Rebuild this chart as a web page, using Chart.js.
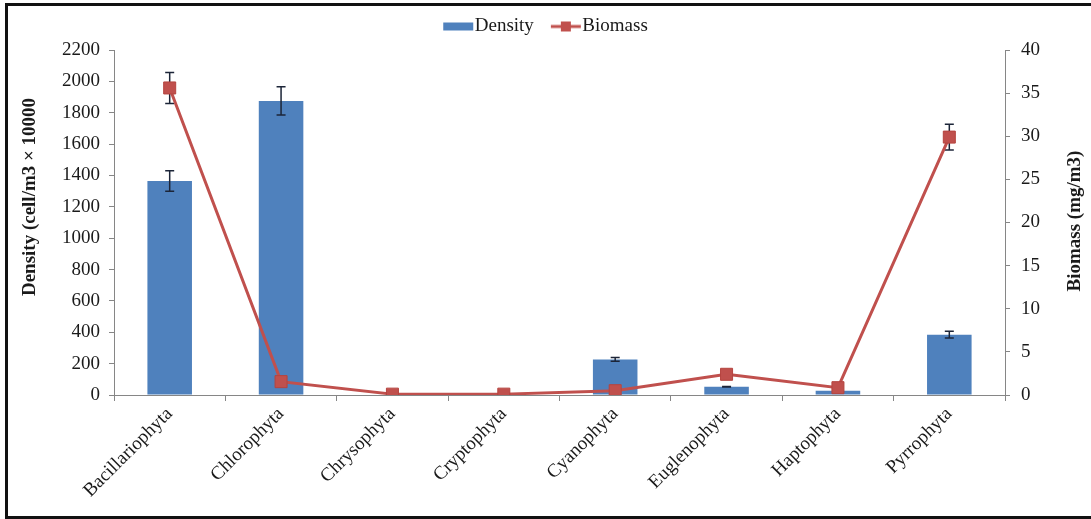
<!DOCTYPE html>
<html>
<head>
<meta charset="utf-8">
<script src="https://cdn.jsdelivr.net/npm/chart.js@4.4.1/dist/chart.umd.min.js"></script>
<style>
  html, body { margin: 0; padding: 0; background: #fff; }
  #wrap { position: relative; width: 1091px; height: 519px; overflow: hidden; background: #fff; }
  #frame { position: absolute; left: 5px; top: 3px; width: 1100px; height: 516px; box-sizing: border-box;
           border: 3px solid #111; border-right: none; pointer-events: none; }
  canvas { position: absolute; left: 0; top: 0; }
</style>
</head>
<body>
<div id="wrap">
  <canvas id="c" width="1091" height="519"></canvas>
  <div id="frame"></div>
</div>
<script>
const categories = ['Bacillariophyta', 'Chlorophyta', 'Chrysophyta', 'Cryptophyta', 'Cyanophyta', 'Euglenophyta', 'Haptophyta', 'Pyrrophyta'];
const density = [1365, 1875, 0, 0, 227, 53, 27, 385];
const densityErr = [65, 90, 0, 0, 12, 2, 0, 22];
const biomass = [35.6, 1.55, 0.1, 0.1, 0.5, 2.4, 0.85, 29.9];
const biomassErr = [1.8, 0, 0, 0, 0, 0, 0, 1.5];
const densityTicks = [0, 200, 400, 600, 800, 1000, 1200, 1400, 1600, 1800, 2000, 2200];
const biomassTicks = [0, 5, 10, 15, 20, 25, 30, 35, 40];

const BLUE = '#4F81BD';
const RED = '#C0504D';
const AXIS = '#868686';
const TEXT = '#1a1a1a';
const FONT = "'Liberation Serif', 'Times New Roman', serif";

Chart.defaults.font.family = FONT;
Chart.defaults.color = TEXT;

// legend icons: canvas is 40 wide, centred on the 22px legend box; icon drawn in its right 30px
function makeIcon(kind) {
  const cv = document.createElement('canvas');
  cv.width = 40; cv.height = 12;
  const g = cv.getContext('2d');
  if (kind === 'bar') {
    g.fillStyle = BLUE; g.fillRect(9, 2, 30, 8);
  } else {
    g.strokeStyle = RED; g.lineWidth = 3;
    g.beginPath(); g.moveTo(9, 6); g.lineTo(39, 6); g.stroke();
    g.fillStyle = RED; g.fillRect(19, 1, 10, 10);
  }
  return cv;
}
const icons = [makeIcon('bar'), makeIcon('line')];

function drawErr(chart, meta, vals, errs, scale) {
  const ctx = chart.ctx;
  ctx.save();
  ctx.strokeStyle = '#1c2538';
  ctx.lineWidth = 1.5;
  meta.data.forEach((el, i) => {
    const e = errs[i];
    if (!e) return;
    const x = el.x;
    const yt = scale.getPixelForValue(vals[i] + e);
    const yb = scale.getPixelForValue(vals[i] - e);
    ctx.beginPath();
    ctx.moveTo(x, yt); ctx.lineTo(x, yb);
    ctx.moveTo(x - 4.5, yt); ctx.lineTo(x + 4.5, yt);
    ctx.moveTo(x - 4.5, yb); ctx.lineTo(x + 4.5, yb);
    ctx.stroke();
  });
  ctx.restore();
}

const errorBars = {
  id: 'errorBars',
  afterDatasetDraw(chart, args) {
    if (args.index !== 0) return;
    drawErr(chart, args.meta, density, densityErr, chart.scales.y);
  },
  beforeDatasetDraw(chart, args) {
    if (args.index !== 1) return;
    drawErr(chart, args.meta, biomass, biomassErr, chart.scales.y1);
  }
};

const legendSpace = {
  id: 'legendSpace',
  afterInit(chart) {
    const lg = chart.legend;
    if (!lg) return;
    const orig = lg.fit.bind(lg);
    lg.fit = function () { orig(); this.height += 4; };
  }
};

const axisTitles = {
  id: 'axisTitles',
  afterDraw(chart) {
    const ctx = chart.ctx;
    const draw = (txt, x, y) => {
      ctx.save();
      ctx.fillStyle = TEXT;
      ctx.font = "bold 19px " + FONT;
      ctx.textAlign = 'center';
      ctx.textBaseline = 'middle';
      ctx.translate(x, y);
      ctx.rotate(-Math.PI / 2);
      ctx.fillText(txt, 0, 0);
      ctx.restore();
    };
    draw('Density (cell/m3 \u00d7 10000', 30, 197);
    draw('Biomass (mg/m3)', 1075, 221);
  }
};

new Chart(document.getElementById('c'), {
  data: {
    labels: categories,
    datasets: [
      {
        type: 'bar', label: 'Density', data: density, yAxisID: 'y', order: 1,
        backgroundColor: BLUE, borderWidth: 0,
        barPercentage: 0.4, categoryPercentage: 1.0
      },
      {
        type: 'line', label: 'Biomass', data: biomass, yAxisID: 'y1', order: 0,
        borderColor: RED, backgroundColor: RED, borderWidth: 3,
        pointStyle: 'rect', pointRadius: 8.5, pointBackgroundColor: RED,
        pointBorderColor: '#B5443F', pointBorderWidth: 1, tension: 0
      }
    ]
  },
  options: {
    responsive: false,
    devicePixelRatio: 1,
    animation: false,
    layout: { padding: { top: 0, left: 0, right: 0, bottom: 0 } },
    plugins: {
      tooltip: { enabled: false },
      legend: {
        position: 'top',
        labels: {
          usePointStyle: true,
          pointStyleWidth: 22,
          padding: 17,
          font: { size: 19 },
          color: TEXT,
          generateLabels(chart) {
            return chart.data.datasets.map((ds, i) => ({
              text: ds.label, datasetIndex: i, pointStyle: icons[i],
              fillStyle: ds.backgroundColor, strokeStyle: ds.backgroundColor,
              lineWidth: 0, hidden: false, fontColor: TEXT
            }));
          }
        }
      }
    },
    scales: {
      x: {
        offset: true,
        grid: { display: true, drawOnChartArea: false, offset: true, color: AXIS, tickLength: 6, tickWidth: 1 },
        border: { display: true, color: AXIS, width: 1 },
        ticks: { autoSkip: false, maxRotation: 45, minRotation: 45, padding: 2, font: { size: 19 }, color: TEXT },
        afterFit(s) { s.height = 124; }
      },
      y: {
        position: 'left', min: densityTicks[0], max: densityTicks[densityTicks.length - 1],
        grid: { display: true, drawOnChartArea: false, color: AXIS, tickLength: 5 },
        border: { display: true, color: AXIS, width: 1 },
        ticks: { stepSize: densityTicks[1] - densityTicks[0], padding: 9, font: { size: 19 }, color: TEXT,
                 callback: (v) => String(v) },
        afterFit(s) { s.width = 114; }
      },
      y1: {
        position: 'right', min: biomassTicks[0], max: biomassTicks[biomassTicks.length - 1],
        grid: { display: true, drawOnChartArea: false, color: AXIS, tickLength: 5 },
        border: { display: true, color: AXIS, width: 1 },
        ticks: { stepSize: biomassTicks[1] - biomassTicks[0], padding: 11, font: { size: 19 }, color: TEXT,
                 callback: (v) => String(v) },
        afterFit(s) { s.width = 86; }
      }
    }
  },
  plugins: [errorBars, legendSpace, axisTitles]
});
</script>
</body>
</html>
